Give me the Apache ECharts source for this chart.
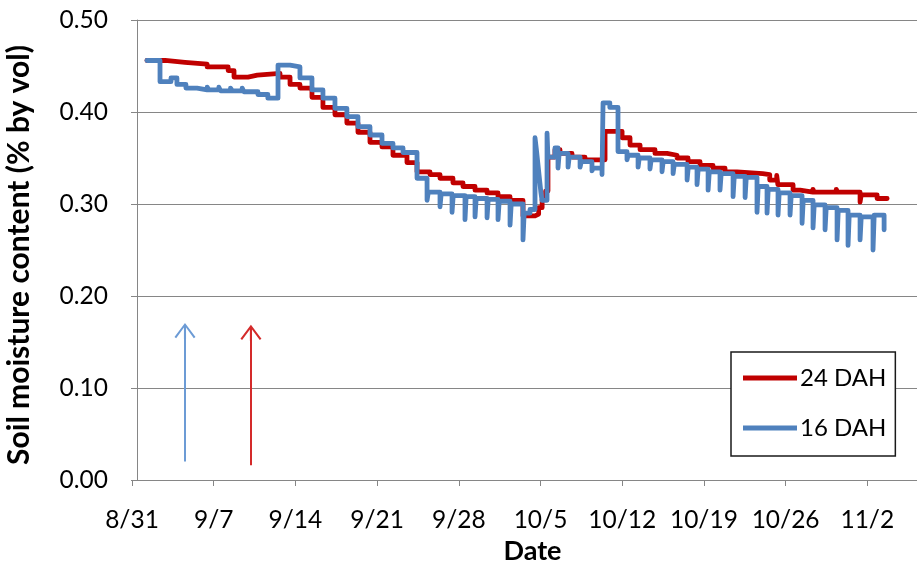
<!DOCTYPE html>
<html>
<head>
<meta charset="utf-8">
<script src="https://cdn.jsdelivr.net/npm/echarts@6/dist/echarts.min.js"></script>
<style>
  html, body { margin: 0; padding: 0; background: #fff; }
  #chart { width: 917px; height: 568px; }
</style>
</head>
<body>
<div id="chart"></div>
<script>
// x values are days after 8/31 (0:00); each pair is [day, soil moisture]
const tickLabels = ['8/31', '9/7', '9/14', '9/21', '9/28', '10/5', '10/12', '10/19', '10/26', '11/2'];

const dah24 = [
  [1.28, 0.456], [2.84, 0.454], [4.54, 0.452], [6.44, 0.449], [8.24, 0.445], [8.74, 0.438],
  [9.94, 0.440], [10.74, 0.442], [12.68, 0.438], [13.54, 0.430], [14.39, 0.426], [15.42, 0.416],
  [16.36, 0.405], [17.39, 0.397], [18.41, 0.388], [19.36, 0.378], [20.39, 0.367], [21.42, 0.362],
  [22.36, 0.353], [23.56, 0.345], [24.42, 0.335], [25.53, 0.332], [26.39, 0.328], [27.5, 0.323],
  [28.36, 0.319], [29.39, 0.315], [30.42, 0.312], [31.36, 0.308], [32.39, 0.304], [33.5, 0.287],
  [34.53, 0.289], [34.84, 0.296], [35.14, 0.305], [35.44, 0.314], [35.64, 0.351], [36.24, 0.359],
  [36.67, 0.355], [37.7, 0.351], [38.81, 0.348], [40.53, 0.379], [41.99, 0.372], [42.67, 0.364],
  [43.53, 0.359], [44.81, 0.355], [45.84, 0.353], [46.7, 0.350], [47.64, 0.346], [48.67, 0.342],
  [49.78, 0.339], [50.81, 0.335], [51.84, 0.333], [54.04, 0.332], [54.64, 0.326], [55.24, 0.331],
  [55.34, 0.321], [56.64, 0.315], [57.24, 0.313], [58.34, 0.316], [58.44, 0.313], [60.34, 0.316],
  [60.44, 0.313], [62.38, 0.302], [62.48, 0.310], [63.84, 0.306], [64.7, 0.306]
];

const dah16 = [
  [1.28, 0.456], [2.4, 0.433], [3.34, 0.437], [3.85, 0.430], [4.62, 0.426], [5.57, 0.424],
  [6.44, 0.427], [6.59, 0.424], [7.44, 0.427], [7.59, 0.423], [8.44, 0.426], [8.59, 0.423],
  [9.44, 0.426], [9.59, 0.422], [10.79, 0.419], [11.64, 0.415], [12.51, 0.451], [13.54, 0.449],
  [14.39, 0.437], [15.42, 0.424], [16.36, 0.415], [17.39, 0.404], [18.41, 0.395], [19.36, 0.384],
  [20.39, 0.375], [21.42, 0.366], [22.36, 0.361], [23.22, 0.356], [24.42, 0.328],
  [25.28, 0.304], [25.39, 0.313], [26.39, 0.297], [26.49, 0.311], [27.42, 0.291], [27.52, 0.309],
  [28.53, 0.283], [28.63, 0.308], [29.39, 0.286], [29.49, 0.306], [30.42, 0.285], [30.52, 0.305],
  [31.36, 0.283], [31.46, 0.303], [32.39, 0.277], [32.49, 0.300], [33.5, 0.261], [33.6, 0.290],
  [34.1, 0.294], [34.53, 0.372], [34.64, 0.360], [34.74, 0.348], [34.84, 0.336], [34.94, 0.324],
  [35.04, 0.312], [35.13, 0.304], [35.56, 0.377], [35.64, 0.351], [36.24, 0.361],
  [36.5, 0.339], [36.6, 0.355], [37.36, 0.340], [37.46, 0.351], [38.39, 0.340], [38.49, 0.346],
  [39.41, 0.336], [39.51, 0.339], [40.27, 0.332], [40.36, 0.410], [40.94, 0.405], [41.64, 0.357],
  [42.41, 0.348], [42.51, 0.353], [43.36, 0.340], [43.46, 0.350], [44.38, 0.338], [44.48, 0.348],
  [45.41, 0.335], [45.51, 0.346], [46.36, 0.333], [46.46, 0.343], [47.56, 0.326], [47.66, 0.340],
  [48.41, 0.321], [48.51, 0.338], [49.36, 0.315], [49.46, 0.335], [50.38, 0.315], [50.48, 0.333],
  [51.5, 0.308], [51.6, 0.330], [52.53, 0.307], [52.63, 0.329], [53.55, 0.291], [53.65, 0.319],
  [54.41, 0.290], [54.51, 0.316], [55.35, 0.288], [55.45, 0.312], [56.38, 0.288], [56.48, 0.309],
  [57.41, 0.279], [57.51, 0.304], [58.35, 0.274], [58.45, 0.299], [59.38, 0.272], [59.48, 0.296],
  [60.41, 0.261], [60.51, 0.293], [61.35, 0.255], [61.45, 0.288], [62.38, 0.261], [62.48, 0.286],
  [63.49, 0.250], [63.59, 0.288], [64.44, 0.272]
];

// event markers: [day, bottom value, top value]
const arrow16 = [4.54, 0.020, 0.162];
const arrow24 = [10.19, 0.016, 0.160];

const FONT = 'Lato';
const arrowHead = 'path://M10,0 L20,14 L18.4,15.2 L11,4.6 L11,16 L9,16 L9,4.6 L1.6,15.2 L0,14 Z';

function arrowLine(a, color) {
  return {
    silent: true,
    symbol: ['none', arrowHead],
    symbolSize: [21, 16],
    label: { show: false },
    lineStyle: { color: color, width: 2, type: 'solid' },
    emphasis: { disabled: true },
    data: [[{ coord: [a[0], a[1]] }, { coord: [a[0], a[2]] }]]
  };
}

const chart = echarts.init(document.getElementById('chart'), null, { renderer: 'canvas' });
chart.setOption({
  animation: false,
  backgroundColor: '#fff',
  textStyle: { fontFamily: FONT },
  grid: { left: 132, right: -32, top: 20, bottom: 88, containLabel: false, outerBoundsMode: 'none' },
  legend: {
    left: 731, top: 352, orient: 'vertical',
    padding: [14, 9, 16, 12],
    itemGap: 26, itemWidth: 54, itemHeight: 5,
    icon: 'rect',
    borderColor: '#1a1a1a', borderWidth: 1.5,
    backgroundColor: '#fff',
    textStyle: { fontFamily: FONT, fontSize: 24, color: '#000', padding: [0, 0, 0, -2] },
    data: ['24 DAH', '16 DAH']
  },
  xAxis: {
    type: 'value', min: 0, max: 70, interval: 7,
    name: 'Date', nameLocation: 'middle', nameGap: 58,
    nameTextStyle: { fontFamily: FONT, fontSize: 27, fontWeight: 'bold', color: '#000', padding: [0, 16, 0, 0] },
    axisLine: { show: true, lineStyle: { color: '#868686', width: 1 } },
    axisTick: { show: true, length: 6, lineStyle: { color: '#868686' } },
    axisLabel: {
      margin: 28, fontSize: 24.5, color: '#000', fontFamily: FONT, showMaxLabel: false,
      formatter: v => tickLabels[Math.round(v / 7)] || ''
    },
    splitLine: { show: false }
  },
  yAxis: {
    type: 'value', min: 0, max: 0.5, interval: 0.1, offset: -5,
    name: 'Soil moisture content (% by vol)', nameLocation: 'middle', nameGap: 103, nameRotate: 90,
    nameTextStyle: { fontFamily: FONT, fontSize: 30, fontWeight: 'bold', color: '#000', padding: [0, 10, 0, 0] },
    axisLine: { show: true, lineStyle: { color: '#868686', width: 1 } },
    axisTick: { show: true, length: 6, lineStyle: { color: '#868686' } },
    axisLabel: { margin: 29, fontSize: 24.5, color: '#000', fontFamily: FONT, formatter: v => v.toFixed(2) },
    splitLine: { show: true, lineStyle: { color: '#868686', width: 1 } }
  },
  series: [
    {
      name: '24 DAH', type: 'line', step: 'end', showSymbol: false,
      color: '#C00000',
      lineStyle: { width: 4.8, color: '#C00000', cap: 'round', join: 'round' },
      data: dah24,
      markLine: arrowLine(arrow24, '#D42A2A')
    },
    {
      name: '16 DAH', type: 'line', step: 'end', showSymbol: false,
      color: '#4F81BD',
      lineStyle: { width: 4.8, color: '#4F81BD', cap: 'round', join: 'round' },
      data: dah16,
      markLine: arrowLine(arrow16, '#6C9BD5')
    }
  ]
});
</script>
</body>
</html>
